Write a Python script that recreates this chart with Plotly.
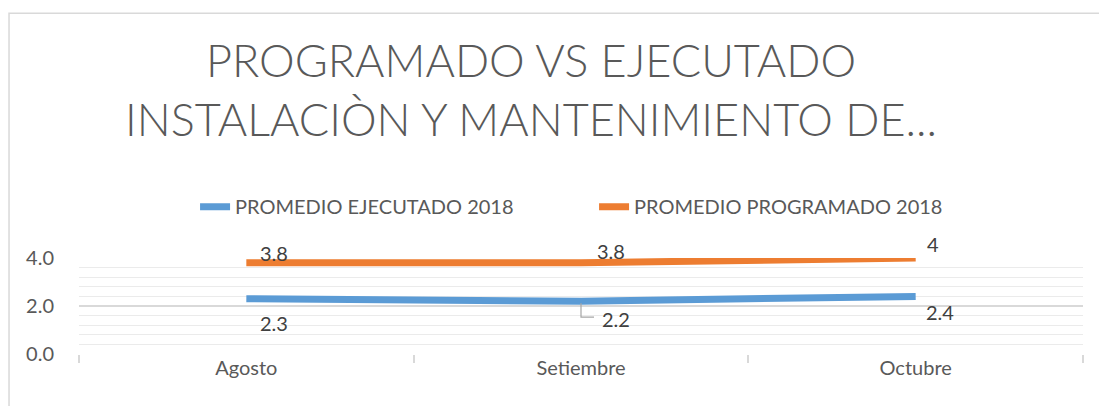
import plotly.graph_objects as go

months = ["Agosto", "Setiembre", "Octubre"]
ejecutado = [2.3, 2.2, 2.4]
programado = [3.8, 3.8, 4]
series_names = ["PROMEDIO EJECUTADO 2018", "PROMEDIO PROGRAMADO 2018"]
title_text = "PROGRAMADO VS EJECUTADO<br>INSTALACIÒN Y MANTENIMIENTO DE..."

BLUE = "#5b9bd5"
ORANGE = "#ed7d31"
TXT = "#595959"
LBL = "#404040"
FONT = "Lato"

# label offsets in pixels (xshift, yshift)
ej_off = [(28, -24), (35, -18), (24, -16)]
pr_off = [(28, 10), (30, 12), (17, 14)]

fig = go.Figure()
fig.add_trace(go.Scatter(x=months, y=ejecutado, mode="lines", name=series_names[0],
                         line=dict(color=BLUE, width=7), cliponaxis=False))
fig.add_trace(go.Scatter(x=months, y=programado, mode="lines", name=series_names[1],
                         line=dict(color=ORANGE, width=7), cliponaxis=False))

ann = []
for m, v, (dx, dy) in zip(months, ejecutado, ej_off):
    ann.append(dict(x=m, y=v, text=f"{v:g}", showarrow=False, xshift=dx, yshift=dy,
                    font=dict(family=FONT, size=20, color=LBL)))
for m, v, (dx, dy) in zip(months, programado, pr_off):
    ann.append(dict(x=m, y=v, text=f"{v:g}", showarrow=False, xshift=dx, yshift=dy,
                    font=dict(family=FONT, size=20, color=LBL)))

shapes = [
    # outer chart border
    dict(type="rect", xref="paper", yref="paper", x0=-0.0697, x1=1.05, y0=-0.7, y1=3.55,
         line=dict(color="#d9d9d9", width=1.5), layer="below"),
    # leader line for Setiembre executed label
    dict(type="path", xref="x", yref="y", xsizemode="pixel", ysizemode="pixel",
         xanchor=1, yanchor=ejecutado[1], path="M0,-2 L0,-16 L13,-16",
         line=dict(color="#a6a6a6", width=1.2)),
]

fig.update_layout(
    width=1099, height=398,
    margin=dict(l=71, r=24, t=250, b=52, autoexpand=False),
    paper_bgcolor="white", plot_bgcolor="white",
    title=dict(text=title_text, x=523 / 1099, xanchor="center", y=1 - 69 / 398, yanchor="top",
               font=dict(family=FONT, size=45, color=TXT, weight=300)),
    showlegend=True,
    legend=dict(orientation="h", x=0.1156, xanchor="left", y=1.535, yanchor="middle",
                entrywidth=354, entrywidthmode="pixels",
                font=dict(family=FONT, size=20, color=TXT), bgcolor="rgba(0,0,0,0)"),
    xaxis=dict(type="category", range=[-0.5, 2.5], showgrid=False, zeroline=False,
               showline=False, tickson="boundaries", ticks="outside", ticklen=8,
               tickcolor="#d9d9d9", tickwidth=1.5, automargin=False,
               tickfont=dict(family=FONT, size=20, color=TXT)),
    yaxis=dict(range=[0, 4], dtick=2, tickformat=".1f", showgrid=True, gridcolor="#d9d9d9",
               gridwidth=1.5, zeroline=False, showline=False, ticks="",
               ticklabelstandoff=24, automargin=False,
               minor=dict(dtick=0.4, showgrid=True, gridcolor="#ebebeb", gridwidth=1.3),
               tickfont=dict(family=FONT, size=20, color=TXT)),
    annotations=ann, shapes=shapes,
)

fig.write_html("out.html")
